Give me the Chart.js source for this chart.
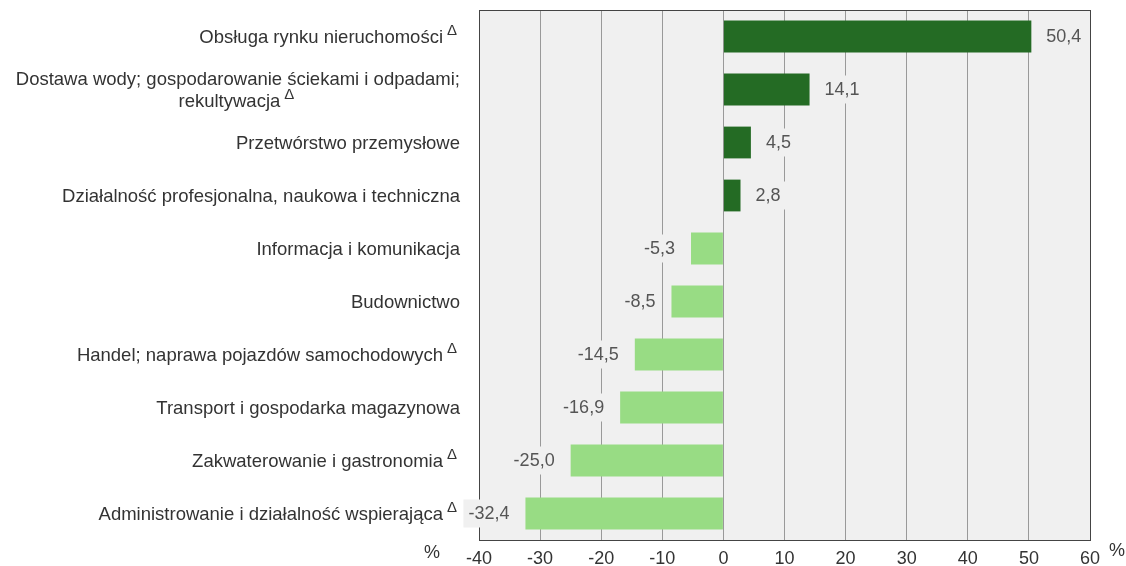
<!DOCTYPE html>
<html lang="pl">
<head>
<meta charset="utf-8">
<title>Wykres</title>
<script src="https://cdn.jsdelivr.net/npm/chart.js@4/dist/chart.umd.min.js"></script>
<style>
  body { margin: 0; background: #fff; }
  #wrap { width: 1126px; height: 566px; }
</style>
</head>
<body>
<div id="wrap"><canvas id="chart" width="1126" height="566"></canvas></div>
<script>
// Dane wykresu
const categories = [
  'Obsługa rynku nieruchomości',
  ['Dostawa wody; gospodarowanie ściekami i odpadami;', 'rekultywacja'],
  'Przetwórstwo przemysłowe',
  'Działalność profesjonalna, naukowa i techniczna',
  'Informacja i komunikacja',
  'Budownictwo',
  'Handel; naprawa pojazdów samochodowych',
  'Transport i gospodarka magazynowa',
  'Zakwaterowanie i gastronomia',
  'Administrowanie i działalność wspierająca'
];
const values = [50.4, 14.1, 4.5, 2.8, -5.3, -8.5, -14.5, -16.9, -25.0, -32.4];
const deltaMarks = [true, true, false, false, false, false, true, false, true, true];
const xTicks = [-40, -30, -20, -10, 0, 10, 20, 30, 40, 50, 60];

const FONT = '"Liberation Sans", Arial, sans-serif';
const PLOT_BG = '#f0f0f0';

// Tło obszaru wykresu
const plotBackground = {
  id: 'plotBackground',
  beforeDraw(chart) {
    const { ctx, chartArea: a } = chart;
    ctx.save();
    ctx.fillStyle = PLOT_BG;
    ctx.fillRect(a.left, a.top, a.right - a.left, a.bottom - a.top);
    ctx.restore();
  }
};

// Ramka, etykiety kategorii, wartości i znaki %
const extras = {
  id: 'extras',
  afterDatasetsDraw(chart) {
    const { ctx, chartArea: a } = chart;
    const yScale = chart.scales.y;
    const meta = chart.getDatasetMeta(0);

    ctx.save();
    // ramka
    ctx.strokeStyle = '#444';
    ctx.lineWidth = 1;
    ctx.strokeRect(Math.round(a.left) + 0.5, Math.round(a.top) + 0.5,
      Math.round(a.right - a.left), Math.round(a.bottom - a.top));

    // etykiety kategorii
    ctx.fillStyle = '#333';
    ctx.textBaseline = 'middle';
    const labelRight = a.left - 19;
    categories.forEach((cat, i) => {
      const y = yScale.getPixelForValue(i) + 1;
      const lines = Array.isArray(cat) ? cat : [cat];
      ctx.font = '18.5px ' + FONT;
      const dW = deltaMarks[i] ? 17 : 0;
      if (lines.length === 1) {
        ctx.textAlign = 'right';
        ctx.fillText(lines[0], labelRight - dW, y);
        if (deltaMarks[i]) drawDelta(ctx, labelRight - dW + 4, y - 7);
      } else {
        const widths = lines.map((l, k) => ctx.measureText(l).width + (k === lines.length - 1 ? dW : 0));
        const blockW = Math.max(...widths);
        const cx = labelRight - blockW / 2;
        const lh = 22;
        lines.forEach((l, k) => {
          const ly = y + (k - (lines.length - 1) / 2) * lh;
          ctx.font = '18.5px ' + FONT;
          ctx.textAlign = 'left';
          const lx = cx - widths[k] / 2;
          ctx.fillText(l, lx, ly);
          if (k === lines.length - 1 && deltaMarks[i]) {
            drawDelta(ctx, lx + ctx.measureText(l).width + 4, ly - 7);
          }
        });
      }
    });

    // etykiety wartości
    ctx.font = '18px ' + FONT;
    ctx.textBaseline = 'middle';
    meta.data.forEach((bar, i) => {
      const v = values[i];
      const txt = v.toFixed(1).replace('.', ',');
      const w = ctx.measureText(txt).width;
      const pad = 5;
      let x;
      if (v >= 0) x = bar.x + 15;
      else x = bar.x - 16 - w;
      ctx.fillStyle = PLOT_BG;
      ctx.fillRect(x - pad, bar.y - 14, w + pad * 2, 28);
      ctx.fillStyle = '#555';
      ctx.textAlign = 'left';
      ctx.fillText(txt, x, bar.y + 1);
    });

    // znaki procentu
    ctx.font = '18px ' + FONT;
    ctx.fillStyle = '#333';
    ctx.textAlign = 'center';
    ctx.fillText('%', a.left - 47, a.bottom + 13);
    ctx.fillText('%', a.right + 27, a.bottom + 11);
    ctx.restore();
  }
};

function drawDelta(ctx, x, y) {
  ctx.save();
  ctx.font = '15px ' + FONT;
  ctx.textAlign = 'left';
  ctx.textBaseline = 'middle';
  ctx.fillText('Δ', x, y);
  ctx.restore();
}

new Chart(document.getElementById('chart'), {
  type: 'bar',
  data: {
    labels: categories.map((c, i) => i),
    datasets: [{
      data: values,
      backgroundColor: values.map(v => v >= 0 ? '#246b24' : '#98dc84'),
      borderWidth: 0,
      barPercentage: 0.6,
      categoryPercentage: 1
    }]
  },
  options: {
    indexAxis: 'y',
    responsive: false,
    animation: false,
    layout: { padding: { left: 479, right: 36, top: 10, bottom: -12 } },
    plugins: { legend: { display: false }, tooltip: { enabled: false } },
    scales: {
      x: {
        min: -40,
        max: 60,
        afterBuildTicks(scale) { scale.ticks = xTicks.map(v => ({ value: v })); },
        ticks: {
          color: '#333',
          font: { family: FONT, size: 18, lineHeight: 1 },
          padding: 10,
          callback: v => String(v)
        },
        grid: { color: '#999', drawTicks: false },
        border: { display: false }
      },
      y: { display: false }
    }
  },
  plugins: [plotBackground, extras]
});
</script>
</body>
</html>
